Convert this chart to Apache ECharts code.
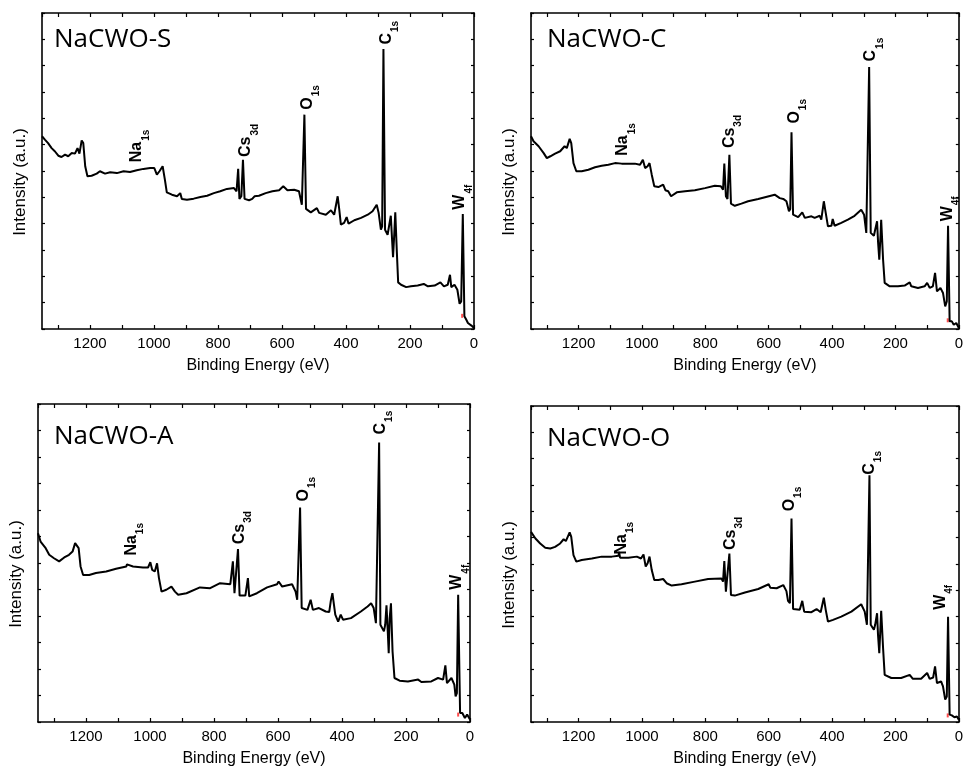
<!DOCTYPE html>
<html>
<head>
<meta charset="utf-8">
<script src="https://cdn.jsdelivr.net/npm/echarts@6/dist/echarts.min.js"></script>
<style>
  html, body { margin: 0; padding: 0; background: #fff; }
  #chart { width: 966px; height: 771px; }
</style>
</head>
<body>
<div id="chart"></div>
<script>
// sample names, one per panel
const titles = ["NaCWO-S", "NaCWO-C", "NaCWO-A", "NaCWO-O"];

// survey spectra: [binding energy (eV), intensity (a.u., 0-12 frame units)]
const specS = [
  [1350, 7.32], [1341, 7.19], [1331, 7.06], [1320, 6.87], [1310, 6.75], [1299, 6.58], [1289, 6.53],
  [1278, 6.62], [1268, 6.56], [1257, 6.68], [1247, 6.66], [1239, 6.87], [1233, 6.66], [1226, 7.16],
  [1221, 7.06], [1215, 6.18], [1208, 5.80], [1195, 5.82], [1179, 5.90], [1169, 5.99], [1153, 5.90],
  [1137, 5.95], [1116, 5.92], [1095, 5.99], [1075, 5.96], [1054, 6.03], [1033, 6.08], [1012, 6.11],
  [999, 6.11], [991, 5.86], [983, 5.99], [973, 6.18], [966, 5.67], [960, 5.19], [944, 5.10],
  [928, 5.04], [918, 5.16], [913, 4.94], [897, 4.91], [876, 4.95], [855, 5.01], [834, 5.06],
  [813, 5.16], [793, 5.23], [772, 5.32], [750, 5.35], [742, 5.23], [737, 6.08], [733, 4.94],
  [727, 5.04], [722, 6.43], [717, 4.94], [703, 4.89], [693, 4.94], [686, 5.04], [672, 5.06],
  [651, 5.16], [630, 5.23], [609, 5.27], [596, 5.42], [583, 5.27], [562, 5.29], [547, 5.23],
  [538, 4.72], [534, 4.66], [530, 8.14], [525, 4.56], [510, 4.43], [491, 4.59], [484, 4.41],
  [463, 4.34], [447, 4.51], [437, 4.34], [426, 5.04], [421, 4.53], [416, 3.96], [406, 4.03],
  [398, 4.25], [392, 4.00], [374, 4.13], [353, 4.22], [332, 4.34], [317, 4.47], [304, 4.72],
  [298, 4.41], [291, 3.77], [287, 3.90], [283, 10.63], [278, 3.77], [270, 3.58], [264, 3.65],
  [260, 4.30], [256, 3.39], [253, 2.73], [249, 3.65], [246, 4.43], [241, 2.89], [237, 1.77],
  [228, 1.68], [212, 1.59], [197, 1.62], [176, 1.65], [157, 1.71], [144, 1.62], [123, 1.65],
  [105, 1.77], [94, 1.62], [82, 1.68], [75, 2.06], [71, 1.59], [61, 1.68], [52, 1.49],
  [45, 0.96], [40, 1.05], [35, 4.37], [30, 0.48], [24, 0.35], [19, 0.23], [14, 0.29],
  [8, 0.13], [0, 0.04]
];
const specC = [
  [1350, 7.32], [1342, 7.13], [1326, 6.94], [1310, 6.68], [1300, 6.49], [1289, 6.56], [1274, 6.66],
  [1258, 6.75], [1244, 6.94], [1237, 6.87], [1228, 7.22], [1223, 7.06], [1216, 6.30], [1207, 5.99],
  [1190, 5.99], [1169, 6.05], [1148, 6.14], [1127, 6.20], [1106, 6.24], [1085, 6.30], [1064, 6.28],
  [1043, 6.28], [1022, 6.28], [1006, 6.24], [997, 6.43], [990, 6.11], [982, 6.18], [976, 6.30],
  [969, 5.86], [961, 5.42], [948, 5.39], [933, 5.48], [926, 5.27], [917, 5.23], [908, 5.04],
  [890, 5.19], [864, 5.23], [833, 5.27], [801, 5.35], [770, 5.44], [751, 5.42], [744, 5.29],
  [740, 6.28], [735, 5.04], [730, 4.94], [724, 6.62], [719, 4.76], [707, 4.68], [686, 4.76],
  [665, 4.85], [633, 4.94], [581, 5.10], [565, 4.97], [554, 4.94], [544, 4.85], [536, 4.47],
  [532, 4.56], [528, 7.47], [523, 4.34], [507, 4.25], [494, 4.43], [486, 4.22], [465, 4.28],
  [455, 4.22], [439, 4.30], [434, 4.15], [426, 4.85], [420, 4.41], [413, 3.90], [402, 3.92],
  [398, 4.18], [392, 3.92], [371, 4.03], [350, 4.15], [329, 4.30], [308, 4.53], [299, 4.34],
  [292, 3.65], [287, 3.71], [283, 9.95], [278, 3.65], [268, 3.54], [264, 3.77], [258, 4.09],
  [255, 3.33], [251, 2.63], [247, 3.58], [245, 4.15], [239, 2.63], [234, 1.75], [218, 1.62],
  [192, 1.62], [171, 1.65], [155, 1.77], [150, 1.62], [129, 1.56], [108, 1.62], [100, 1.75],
  [92, 1.56], [82, 1.62], [75, 2.13], [69, 1.43], [58, 1.56], [50, 1.37], [43, 0.86],
  [38, 1.05], [34, 3.92], [29, 0.29], [22, 0.29], [16, 0.16], [8, 0.23], [0, 0.04]
];
const specA = [
  [1350, 7.12], [1342, 6.81], [1326, 6.56], [1315, 6.31], [1300, 6.18], [1284, 6.06], [1268, 6.21],
  [1253, 6.31], [1242, 6.43], [1234, 6.75], [1228, 6.81], [1223, 6.56], [1217, 5.87], [1209, 5.55],
  [1190, 5.55], [1169, 5.62], [1137, 5.68], [1106, 5.78], [1074, 5.87], [1072, 5.95], [1053, 5.87],
  [1022, 5.83], [1006, 5.83], [999, 6.03], [993, 5.74], [985, 5.68], [978, 5.99], [972, 5.43],
  [964, 4.92], [949, 4.99], [933, 5.11], [922, 4.92], [912, 4.80], [886, 4.86], [844, 5.08],
  [812, 5.05], [781, 5.24], [749, 5.20], [745, 5.18], [741, 6.06], [736, 4.86], [731, 4.80],
  [725, 6.53], [720, 4.77], [702, 4.77], [694, 5.43], [690, 4.74], [666, 4.86], [634, 5.08],
  [603, 5.20], [598, 5.30], [587, 5.11], [556, 5.20], [545, 4.92], [540, 4.61], [536, 4.55],
  [531, 8.09], [526, 4.30], [508, 4.23], [498, 4.61], [491, 4.23], [472, 4.30], [451, 4.17],
  [440, 4.15], [435, 4.57], [430, 4.86], [421, 4.05], [412, 3.79], [404, 4.05], [397, 3.86],
  [372, 3.92], [341, 4.17], [320, 4.36], [309, 4.48], [301, 4.30], [294, 3.73], [288, 3.77],
  [284, 10.55], [280, 3.67], [269, 3.42], [265, 3.67], [261, 4.40], [257, 3.42], [254, 2.60],
  [251, 3.92], [247, 4.48], [242, 2.66], [236, 1.66], [220, 1.56], [194, 1.53], [162, 1.60],
  [152, 1.51], [121, 1.53], [100, 1.66], [84, 1.60], [77, 2.14], [72, 1.47], [58, 1.66],
  [49, 1.41], [45, 0.97], [41, 1.09], [37, 4.80], [31, 0.34], [24, 0.34], [16, 0.15],
  [9, 0.28], [0, 0.09]
];
const specO = [
  [1350, 7.22], [1336, 6.97], [1321, 6.78], [1305, 6.62], [1289, 6.59], [1274, 6.65], [1258, 6.78],
  [1247, 6.94], [1240, 6.87], [1228, 7.20], [1223, 7.03], [1216, 6.34], [1207, 6.09], [1190, 6.15],
  [1158, 6.21], [1127, 6.28], [1095, 6.28], [1074, 6.31], [1072, 6.46], [1069, 6.24], [1043, 6.24],
  [1016, 6.28], [1003, 6.21], [995, 6.36], [988, 5.90], [982, 6.03], [976, 6.28], [969, 5.77],
  [961, 5.39], [948, 5.39], [933, 5.43], [922, 5.27], [906, 5.18], [875, 5.23], [833, 5.33],
  [791, 5.43], [749, 5.45], [744, 5.33], [740, 6.11], [735, 4.95], [730, 4.89], [724, 6.40],
  [719, 4.82], [707, 4.80], [675, 4.92], [633, 5.05], [600, 5.23], [595, 5.10], [575, 5.08],
  [554, 5.20], [544, 4.97], [539, 4.60], [533, 4.51], [528, 7.73], [523, 4.29], [502, 4.26],
  [494, 4.60], [488, 4.19], [465, 4.17], [449, 4.29], [436, 4.17], [426, 4.72], [420, 4.26],
  [413, 3.81], [397, 3.88], [371, 4.00], [339, 4.19], [308, 4.47], [297, 4.19], [290, 3.69],
  [286, 3.75], [282, 9.37], [278, 3.69], [268, 3.50], [264, 3.69], [258, 4.13], [255, 3.31],
  [251, 2.61], [247, 3.69], [245, 4.22], [239, 2.80], [234, 1.79], [213, 1.67], [182, 1.67],
  [155, 1.79], [145, 1.64], [119, 1.64], [100, 1.86], [92, 1.64], [81, 1.69], [75, 2.11],
  [69, 1.48], [56, 1.54], [50, 1.35], [43, 0.85], [38, 0.97], [34, 4.00], [29, 0.28],
  [22, 0.25], [14, 0.18], [6, 0.21], [0, 0.09]
];
const spectra = [specS, specC, specA, specO];

// small red marker near the W4f base in each panel
const redMarks = [[[37, 0.5]], [[35, 0.33]], [[37, 0.28]], [[35, 0.25]]];

// peak labels: [element, subscript, energy, bottom of label]
const peaksS = [["Na", "1s", 1052, 6.33], ["Cs", "3d", 711, 6.53], ["O", "1s", 518, 8.33], ["C", "1s", 273, 10.8], ["W", "4f", 42, 4.53]];
const peaksC = [["Na", "1s", 1058, 6.58], ["Cs", "3d", 722, 6.87], ["O", "1s", 518, 7.8], ["C", "1s", 276, 10.16], ["W", "4f", 35, 4.09]];
const peaksA = [["Na", "1s", 1056, 6.28], ["Cs", "3d", 718, 6.71], ["O", "1s", 519, 8.32], ["C", "1s", 278, 10.85], ["W", "4f", 39, 4.99]];
const peaksO = [["Na", "1s", 1064, 6.36], ["Cs", "3d", 719, 6.53], ["O", "1s", 533, 8.0], ["C", "1s", 281, 9.39], ["W", "4f", 56, 4.26]];
const peakLabels = [peaksS, peaksC, peaksA, peaksO];

// panel frames and where each sample name sits inside them
const grids = [
  { left: 42, top: 13, width: 432, height: 316 },
  { left: 531, top: 13, width: 432, height: 316 },
  { left: 38, top: 404, width: 432, height: 318 },
  { left: 531, top: 406, width: 432, height: 316 }
];
const titleOffsets = [[12, 14], [16, 14], [16, 20], [16, 20]];

const FONT = "Liberation Sans, Arial, sans-serif";
const axisLine = { show: true, onZero: false, lineStyle: { color: "#000", width: 1.6 } };

const xAxes = [];
const yAxes = [];
const series = [];
const titleList = [];

grids.forEach((g, i) => {
  xAxes.push({
    type: "value",
    gridIndex: i,
    inverse: true,
    min: 0,
    max: 1350,
    interval: 100,
    axisLine: axisLine,
    axisTick: { inside: true, length: 4, lineStyle: { color: "#000", width: 1.2 } },
    axisLabel: {
      color: "#000",
      fontFamily: FONT,
      fontSize: 15,
      margin: 7,
      showMaxLabel: false,
      formatter: v => (v % 200 === 0 ? String(v) : "")
    },
    splitLine: { show: false },
    name: "Binding Energy (eV)",
    nameLocation: "middle",
    nameGap: 29,
    nameTextStyle: { color: "#000", fontFamily: FONT, fontSize: 16 }
  });
  xAxes.push({
    type: "value",
    gridIndex: i,
    position: "top",
    inverse: true,
    min: 0,
    max: 1350,
    interval: 100,
    axisLine: axisLine,
    axisTick: { inside: true, length: 4, lineStyle: { color: "#000", width: 1.2 } },
    axisLabel: { show: false },
    splitLine: { show: false }
  });
  yAxes.push({
    type: "value",
    gridIndex: i,
    min: 0,
    max: 12,
    interval: 1,
    axisLine: axisLine,
    axisTick: { inside: true, length: 3, lineStyle: { color: "#000", width: 1.2 } },
    axisLabel: { show: false },
    splitLine: { show: false },
    name: "Intensity (a.u.)",
    nameLocation: "middle",
    nameGap: 13,
    nameTextStyle: { color: "#000", fontFamily: FONT, fontSize: 17, padding: [0, 22, 0, 0] }
  });
  yAxes.push({
    type: "value",
    gridIndex: i,
    position: "right",
    min: 0,
    max: 12,
    interval: 1,
    axisLine: axisLine,
    axisTick: { inside: true, length: 3, lineStyle: { color: "#000", width: 1.2 } },
    axisLabel: { show: false },
    splitLine: { show: false }
  });

  series.push({
    type: "line",
    xAxisIndex: 2 * i,
    yAxisIndex: 2 * i,
    data: spectra[i],
    showSymbol: false,
    symbol: "none",
    animation: false,
    lineStyle: { color: "#000", width: 2 },
    markPoint: {
      symbol: "circle",
      symbolSize: 0,
      silent: true,
      animation: false,
      label: {
        show: true,
        position: "inside",
        rotate: 90,
        align: "left",
        verticalAlign: "middle",
        rich: {
          m: { fontFamily: FONT, fontWeight: "bold", fontSize: 16, lineHeight: 17, color: "#000", verticalAlign: "top" },
          s: { fontFamily: FONT, fontWeight: "bold", fontSize: 10, lineHeight: 10, color: "#000", verticalAlign: "top", padding: [12, 0, 0, 1] }
        }
      },
      data: peakLabels[i].map(p => ({
        coord: [p[2], p[3]],
        label: { formatter: "{m|" + p[0] + "}{s|" + p[1] + "}" }
      }))
    }
  });
  series.push({
    type: "scatter",
    xAxisIndex: 2 * i,
    yAxisIndex: 2 * i,
    data: redMarks[i],
    symbol: "rect",
    symbolSize: [2, 4],
    animation: false,
    itemStyle: { color: "#ff2020" }
  });

  titleList.push({
    text: titles[i],
    left: g.left + titleOffsets[i][0],
    top: g.top + titleOffsets[i][1],
    padding: 0,
    textStyle: { fontFamily: "Open Sans", fontWeight: "normal", fontSize: 26, color: "#000" }
  });
});

const chart = echarts.init(document.getElementById("chart"), null, { renderer: "canvas" });
chart.setOption({
  backgroundColor: "#fff",
  animation: false,
  title: titleList,
  grid: grids,
  xAxis: xAxes,
  yAxis: yAxes,
  series: series
});
</script>
</body>
</html>
